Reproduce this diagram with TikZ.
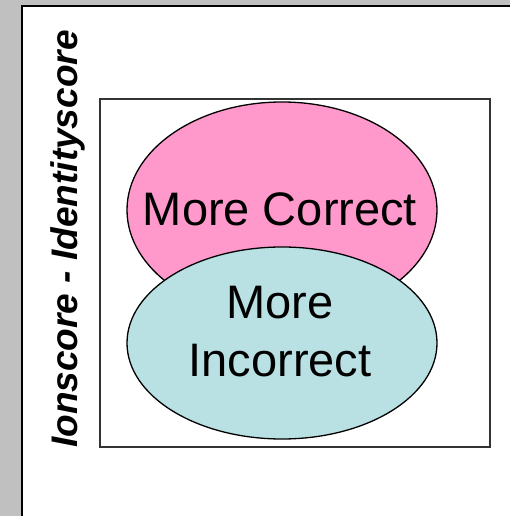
\documentclass[tikz,border=0pt]{standalone}
\usepackage{fontspec}
\setmainfont{Liberation Sans}
\usetikzlibrary{shapes.geometric}

\definecolor{panelgray}{RGB}{192,192,192}
\definecolor{correctpink}{RGB}{255,153,204}
\definecolor{incorrectblue}{RGB}{185,224,227}

\tikzset{
  region/.style={ellipse, draw=black, line width=1.3pt, inner sep=0pt},
  biglabel/.style={font=\fontsize{47}{56}\selectfont, inner sep=0pt, anchor=base},
  axislabel/.style={font=\fontsize{37}{44}\selectfont\bfseries\itshape,
                    inner sep=0pt, anchor=base, rotate=90}
}

\begin{document}
\begin{tikzpicture}[x=1pt,y=1pt]
  \useasboundingbox (0,0) rectangle (510,516);
  % window background and white canvas
  \fill[panelgray] (0,0) rectangle (510,516);
  \fill[white] (22,-2) rectangle (512,510);
  \draw[line width=2pt] (22,-2) -- (22,510) -- (512,510);

  % plot frame
  \draw[black!80, line width=1.2pt] (100,69) rectangle (490,417);

  % overlapping regions
  \node[region, fill=correctpink, minimum width=310, minimum height=216]
    (correct) at (282,306) {};
  \node[region, fill=incorrectblue, minimum width=310, minimum height=192]
    (incorrect) at (282,173) {};

  % region labels
  \node[biglabel] (correcttext) at (280,290) {More Correct};
  \node[biglabel] (moretext) at (280,197) {More};
  \node[biglabel] (incorrecttext) at (280,139) {Incorrect};

  % axis label
  \node[axislabel] (axis) at (77,277) {Ionscore - Identityscore};
\end{tikzpicture}
\end{document}
